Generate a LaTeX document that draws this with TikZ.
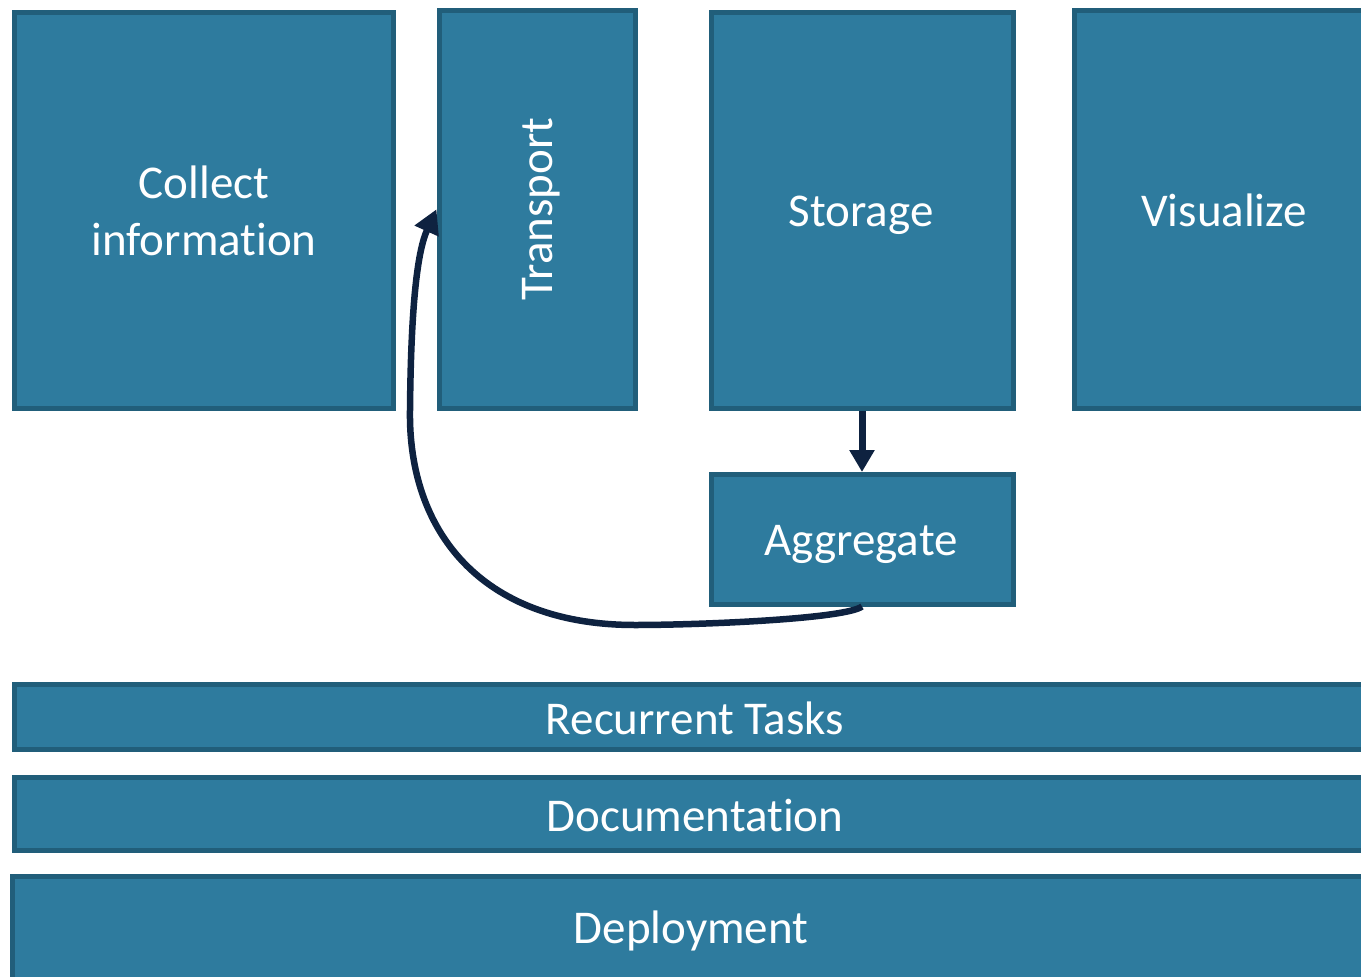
\documentclass[tikz,border=0pt]{standalone}
\usepackage{fontspec}
\setmainfont{Carlito}[Ligatures=NoCommon]
\usetikzlibrary{arrows.meta}
\definecolor{boxfill}{RGB}{46,123,158}
\definecolor{boxline}{RGB}{33,94,122}
\definecolor{arrowc}{RGB}{14,34,64}
\tikzset{
  block/.style={draw=boxline, fill=boxfill, line width=5pt, inner sep=0pt},
  caption/.style={text=white, font=\fontsize{47}{57}\selectfont, align=center, inner sep=0pt},
  link/.style={draw=arrowc, line width=7pt,
    -{Triangle[length=22pt,width=24pt]}}
}
\begin{document}
\begin{tikzpicture}[x=1pt,y=-1pt]
  \useasboundingbox (0,0) rectangle (1361,977);
  \clip (0,0) rectangle (1361,977);
  % upper row of stages
  \node[block, minimum width=378.5pt, minimum height=396pt] (collect) at (203.75,210.5) {};
  \node[caption] (collectlabel) at (204,211) {Collect\\information};
  \node[block, minimum width=196pt, minimum height=398.5pt] (transport) at (537,209.25) {};
  \node[caption, rotate=90] (transportlabel) at (541,209) {Transport};
  \node[block, minimum width=302pt, minimum height=396pt] (storage) at (862,210.5) {};
  \node[caption] (storagelabel) at (861,215) {Storage};
  \node[block, minimum width=296pt, minimum height=398.5pt] (visualize) at (1222,209.25) {};
  \node[caption] (visualizelabel) at (1224,210) {Visualize};
  \node[block, minimum width=302pt, minimum height=129.5pt] (aggregate) at (862,539.25) {};
  \node[caption] (aggregatelabel) at (861,544) {Aggregate};
  % cross-cutting layers
  \node[block, minimum width=1361.5pt, minimum height=65.5pt] (recurrent) at (695.25,716.75) {};
  \node[caption] (recurrentlabel) at (695,718) {Recurrent Tasks};
  \node[block, minimum width=1361.5pt, minimum height=73.5pt] (docs) at (695.25,813.75) {};
  \node[caption] (docslabel) at (695,815) {Documentation};
  \node[block, minimum width=1364pt, minimum height=114pt] (deploy) at (694,933) {};
  \node[caption] (deploylabel) at (691,931) {Deployment};
  % connectors
  \draw[link] (storage.south) -- (aggregate.north);
  \coordinate (bend) at (635,625);
  \coordinate (rise) at (410,410);
  \draw[link, line width=6.5pt, -{Triangle[length=24pt,width=25pt]}]
    (aggregate.south) .. controls (845,619) and (700,625) .. (bend)
    .. controls (480,625) and (408,530) .. (rise)
    .. controls (411,300) and (418,250) .. (transport.west);
\end{tikzpicture}
\end{document}
